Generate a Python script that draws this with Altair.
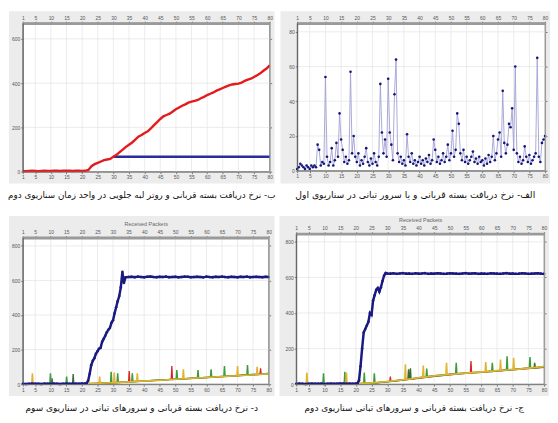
import altair as alt
import pandas as pd

X_TICKS = [1, 5, 10, 15, 20, 25, 30, 35, 40, 45, 50, 55, 60, 65, 70, 75, 80]

CAP_TL = "ب- نرخ دریافت بسته قربانی و روتر لبه جلویی در واحد زمان سناریوی دوم"
CAP_TR = "الف- نرخ دریافت بسته قربانی و یا سرور تبانی در سناریوی اول"
CAP_BL = "د- نرخ دریافت بسته قربانی و سرورهای تبانی در سناریوی سوم"
CAP_BR = "ج- نرخ دریافت بسته قربانی و سرورهای تبانی سناریوی دوم"

# ---- top-left: victim (red) and edge router (blue) ----
tl_red_x = list(range(1, 81))
tl_red_y = [3, 2, 3, 4, 3, 2, 3, 4, 3, 3, 5, 4, 3, 4, 5, 4, 3, 4, 5, 3, 4,
            8, 25, 34, 40, 46, 52, 55, 58, 68, 76, 88, 100, 112, 122, 132, 145, 158, 166, 175,
            182, 196, 210, 224, 238, 250, 256, 262, 272, 282, 290, 298, 304, 312, 316, 320, 324, 332, 338, 346,
            352, 358, 366, 372, 378, 384, 390, 394, 396, 398, 402, 410, 416, 420, 428, 436, 444, 456, 466, 480]
tl_blue_x = [30, 80]
tl_blue_y = [67, 67]

# ---- top-right: victim / colluding server, scenario 1 ----
tr_x = [1 + 0.5 * i for i in range(159)]
tr_y = [1, 2, 4, 3, 2, 1, 3, 2, 1, 3,
        2, 3, 2, 15, 12, 3, 5, 4, 54, 8,
        3, 5, 13, 3, 6, 16, 8, 33, 18, 12,
        5, 8, 4, 6, 57, 10, 20, 8, 5, 10,
        3, 6, 4, 8, 13, 5, 3, 7, 4, 10,
        5, 3, 8, 50, 22, 10, 18, 8, 53, 22,
        15, 6, 44, 64, 10, 5, 8, 4, 6, 3,
        21, 8, 5, 10, 4, 6, 3, 5, 8, 4,
        6, 3, 7, 5, 9, 4, 6, 18, 12, 5,
        8, 4, 6, 10, 5, 8, 15, 6, 10, 23,
        8, 12, 33, 27, 10, 6, 12, 5, 8, 4,
        6, 8, 11, 5, 7, 4, 8, 5, 6, 3,
        7, 4, 9, 5, 8, 20, 6, 10, 18, 22,
        8, 46, 16, 10, 15, 27, 25, 36, 12, 60,
        10, 5, 8, 4, 6, 14, 8, 5, 9, 4,
        6, 8, 10, 65, 8, 5, 16, 18, 20]

# ---- bottom-left: scenario 3 ----
bl_blue_x = list(range(1, 22)) + [21.5 + 0.5 * i for i in range(26)] + list(range(35, 81))
bl_blue_y = ([2, 1, 2, 3, 2, 2, 1, 3, 2, 2, 3, 2, 1, 2, 3, 2, 2, 3, 2, 4, 3]
             + [5, 20, 60, 110, 135, 150, 175, 190, 205, 210, 245, 262, 280, 300, 315, 325, 355,
                370, 410, 445, 480, 510, 560, 650, 585, 618]
             + [620, 621, 619, 622, 620, 618, 621, 623, 620, 619,
                621, 620, 622, 619, 620, 621, 618, 620, 622, 621,
                619, 620, 621, 620, 618, 622, 620, 619, 621, 620,
                622, 620, 619, 621, 620, 618, 621, 620, 622, 619,
                620, 621, 620, 619, 621, 620])
bl_yel_x = [1, 3.9, 4.1, 4.3, 10, 20, 25.5, 25.7, 25.9, 30.2, 30.4, 30.6, 35, 37.6, 37.8, 38, 45, 50,
            52.4, 52.6, 52.8, 60, 65, 69.8, 70, 70.2, 76.1, 76.3, 76.5, 80]
bl_yel_y = [2, 2, 63, 2, 3, 2, 5, 44, 5, 9, 67, 9, 13, 16, 63, 16, 23, 28, 31, 86, 31, 38, 44, 49, 105, 49,
            55, 101, 55, 60]
bl_grn_x = [1, 9.7, 9.9, 10.1, 14.9, 15.1, 15.3, 20, 25, 29.2, 29.4, 29.6, 31.3, 31.5, 31.7, 36.0, 36.2,
            36.4, 40, 45, 50.3, 50.5, 50.7, 55, 57.1, 57.3, 57.5, 61.3, 61.5, 61.7, 65.6, 65.8, 66.0, 70,
            73.0, 73.2, 73.4, 80]
bl_grn_y = [2, 2, 63, 2, 2, 44, 2, 3, 4, 8, 72, 8, 10, 63, 10, 14, 63, 14, 18, 23, 29, 82, 29, 33, 35, 82,
            35, 40, 86, 40, 45, 105, 45, 49, 52, 110, 52, 61]
bl_red_x = [1, 10, 20, 25, 30, 35.0, 35.2, 35.4, 40, 45, 48.7, 48.9, 49.1, 55, 60, 65, 70, 75, 77.2, 77.4,
            77.6, 80]
bl_red_y = [1, 2, 2, 4, 8, 13, 76, 13, 18, 23, 27, 105, 27, 33, 38, 44, 49, 54, 57, 91, 57, 59]
bl_drk_x = [1, 10.2, 10.4, 10.6, 17.0, 17.2, 17.4, 20, 25, 30, 40, 50, 60, 70, 80]
bl_drk_y = [2, 2, 34, 2, 2, 59, 2, 2, 5, 9, 19, 29, 39, 50, 62]

# ---- bottom-right: scenario 2 ----
br_blue_x = list(range(1, 21)) + [20.5 + 0.5 * i for i in range(19)] + list(range(30, 81))
br_blue_y = ([2, 3, 2, 1, 2, 3, 2, 2, 3, 1, 2, 3, 2, 2, 4, 3, 2, 3, 2, 3]
             + [5, 20, 100, 200, 290, 310, 330, 350, 400, 390, 470, 500, 530, 540, 520, 545, 580, 610, 625]
             + [622, 621, 623, 620, 622, 624, 621, 622, 620, 623,
                621, 622, 624, 620, 622, 621, 623, 622, 620, 621,
                623, 622, 621, 620, 622, 624, 621, 622, 623, 620,
                622, 621, 620, 623, 622, 621, 620, 622, 624, 621,
                622, 620, 621, 623, 622, 620, 621, 622, 623, 621,
                620])
br_yel_x = [1, 4.2, 4.4, 4.6, 10, 16.8, 17, 17.2, 20, 25, 30, 35.6, 35.8, 36, 40, 41.3, 41.5, 41.7, 45,
            48.7, 48.9, 49.1, 55, 60, 61.2, 61.4, 61.6, 65, 65.9, 66.1, 66.3, 70.1, 70.3, 70.5, 75, 80]
br_yel_y = [2, 3, 65, 3, 3, 3, 65, 3, 4, 7, 15, 26, 111, 26, 36, 38, 105, 38, 47, 53, 120, 53, 62, 69,
            70, 124, 70, 76, 77, 139, 77, 82, 148, 82, 90, 99]
br_grn_x = [1, 5, 9.5, 9.7, 9.9, 16.3, 16.5, 16.7, 22.5, 22.7, 22.9, 25.7, 25.9, 26.1, 30, 35, 40, 42.4,
            42.6, 42.8, 45, 50, 51.8, 52, 52.2, 55, 60, 63.3, 63.5, 63.7, 65, 68, 68.2, 68.4, 70, 75.3,
            75.5, 75.7, 80]
br_grn_y = [3, 2, 3, 61, 3, 3, 70, 3, 4, 65, 4, 7, 61, 7, 13, 23, 34, 40, 87, 40, 45, 54, 57, 120, 57,
            61, 67, 72, 120, 72, 74, 79, 157, 79, 81, 90, 152, 90, 96]
br_red_x = [1, 10, 20, 25, 30.8, 31, 31.2, 35, 40, 45, 50, 56.5, 56.7, 56.9, 60, 65, 70, 75, 80]
br_red_y = [1, 2, 3, 5, 15, 43, 15, 22, 33, 44, 52, 63, 130, 63, 66, 73, 80, 88, 95]
br_drk_x = [1, 10, 20, 25, 30, 35, 36.6, 36.8, 37.0, 37.2, 37.4, 37.6, 40, 45, 50, 55, 60, 65, 70, 75,
            76.8, 77, 77.2, 80]
br_drk_y = [2, 3, 2, 6, 14, 25, 28, 83, 28, 29, 89, 29, 36, 47, 56, 63, 69, 76, 83, 91, 93, 120, 93, 100]

YELLOW = "#e2b430"
GREEN = "#3c9c3c"
RED = "#dd2222"
DARK = "#3f6a3a"
NAVY = "#1a1a80"


def ax(orient, values, offset, labels=True, title=None, **kw):
    opts = dict(labelFontSize=5, labelColor="#555", labelPadding=1, tickSize=2,
                tickColor="#777", domainColor="#777", grid=False, zindex=1,
                labelFlush=False, labelOverlap=False, labelFont="Liberation Sans")
    opts.update(kw)
    return alt.Axis(orient=orient, values=values, offset=offset, title=title, labels=labels, **opts)


def panel(W, H, xr, yr, ymax, yticks, caption, cap_size, series, top_title=None):
    xs = alt.Scale(domain=[1, 80], range=xr, nice=False, zero=False)
    ys = alt.Scale(domain=[0, ymax], range=yr, nice=False, zero=False)
    off_b = -(H - yr[0])
    off_l = -xr[0]
    off_t = -yr[1]
    off_r = -(W - xr[1])
    bg_df = pd.DataFrame({"x0": [1], "x1": [80], "y0": [0], "y1": [ymax]})
    bg = alt.Chart(bg_df).mark_rect(fill="white", stroke="#8c8c8c", strokeWidth=1).encode(
        x=alt.X("x0:Q", scale=xs, axis=ax("bottom", X_TICKS, off_b)),
        x2="x1:Q",
        y=alt.Y("y0:Q", scale=ys, axis=ax("left", yticks, off_l, domainColor="#555")),
        y2="y1:Q",
    )
    vg_df = pd.DataFrame({"x": X_TICKS[1:-1], "ya": 0, "yb": ymax})
    top_kw = dict(domainWidth=3, domainColor="#9a9a9a")
    if top_title:
        top_kw.update(titleFontSize=5.5, titleFontWeight="normal", titleColor="#666",
                      titlePadding=3, titleFont="Liberation Sans")
    vgrid = alt.Chart(vg_df).mark_rule(color="#e4e4e4", strokeWidth=0.7).encode(
        x=alt.X("x:Q", scale=xs, axis=ax("top", X_TICKS, off_t, title=top_title, **top_kw)),
        y=alt.Y("ya:Q", scale=ys, axis=ax("right", yticks, off_r, labels=False, domainColor="#9a9a9a")),
        y2="yb:Q",
    )
    hg_df = pd.DataFrame({"y": yticks[1:], "xa": 1, "xb": 80})
    hgrid = alt.Chart(hg_df).mark_rule(color="#e4e4e4", strokeWidth=0.7).encode(
        y=alt.Y("y:Q", scale=ys, axis=None),
        x=alt.X("xa:Q", scale=xs, axis=None),
        x2="xb:Q",
    )
    layers = [bg, hgrid, vgrid]
    for kind, xv, yv, color, width in series:
        df = pd.DataFrame({"x": xv, "y": yv})
        enc = dict(x=alt.X("x:Q", scale=xs, axis=None), y=alt.Y("y:Q", scale=ys, axis=None))
        if kind == "line":
            layers.append(alt.Chart(df).mark_line(color=color, strokeWidth=width).encode(**enc))
        elif kind == "dotline":
            layers.append(alt.Chart(df).mark_line(color="#a0a0d4", strokeWidth=0.9).encode(**enc))
            layers.append(alt.Chart(df).mark_point(filled=True, color=color, size=width, opacity=1).encode(**enc))
        elif kind == "thick":
            layers.append(alt.Chart(df).mark_line(color=color, strokeWidth=width).encode(**enc))
            layers.append(alt.Chart(df).mark_point(filled=True, color=color, size=7, opacity=1).encode(**enc))
    return alt.layer(*layers).resolve_axis(x="independent", y="independent").properties(
        width=W, height=H,
        title=alt.TitleParams(caption, orient="bottom", anchor="middle", font="DejaVu Sans",
                              fontSize=cap_size, fontWeight="normal", color="#111111", offset=8),
    )


tl = panel(270, 175, [14, 265], [163, 12], 671, [0, 200, 400, 600], CAP_TL, 8.9,
           [("line", tl_blue_x, tl_blue_y, "#2b2b9b", 2.5),
            ("line", tl_red_x, tl_red_y, "#e41a1c", 2.4)])
tr = panel(274, 175, [17, 269], [162, 12], 85, [0, 20, 40, 60, 80], CAP_TR, 9.4,
           [("dotline", tr_x, tr_y, "#14147a", 7)])
bl = panel(270, 183, [14, 264], [171, 22], 848, [0, 200, 400, 600, 800], CAP_BL, 9.1,
           [("line", bl_red_x, bl_red_y, RED, 1.3),
            ("line", bl_drk_x, bl_drk_y, DARK, 1.4),
            ("line", bl_grn_x, bl_grn_y, GREEN, 1.5),
            ("line", bl_yel_x, bl_yel_y, YELLOW, 1.6),
            ("thick", bl_blue_x, bl_blue_y, NAVY, 2.5)],
           top_title="Received Packets")
br = panel(274, 183, [17, 269], [171, 18], 846, [0, 200, 400, 600, 800], CAP_BR, 9.1,
           [("line", br_red_x, br_red_y, RED, 1.3),
            ("line", br_drk_x, br_drk_y, DARK, 1.4),
            ("line", br_grn_x, br_grn_y, GREEN, 1.5),
            ("line", br_yel_x, br_yel_y, YELLOW, 1.6),
            ("thick", br_blue_x, br_blue_y, NAVY, 2.5)],
           top_title="Received Packets")

row1 = alt.hconcat(tl, tr, spacing=5)
row2 = alt.hconcat(bl, br, spacing=5)
chart = alt.vconcat(row1, row2, spacing=16).properties(padding=0, background="white").configure_view(
    fill="#ececec", stroke=None
)

chart.save("out.html", embed_options={"renderer": "svg", "actions": False})
